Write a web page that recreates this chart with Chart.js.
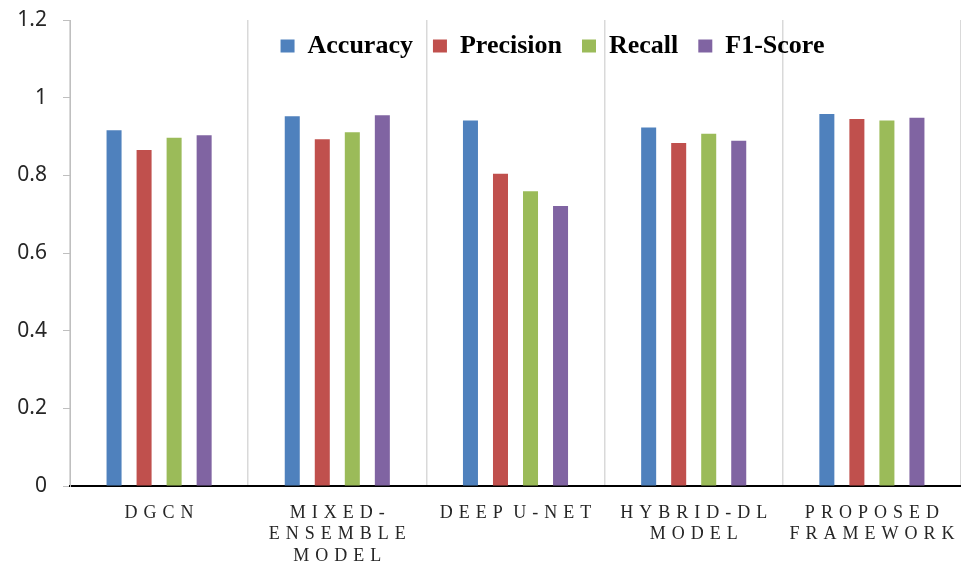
<!DOCTYPE html>
<html>
<head>
<meta charset="utf-8">
<script src="https://cdn.jsdelivr.net/npm/chart.js@4.4.1/dist/chart.umd.min.js"></script>
<style>
  body { margin: 0; background: #fff; }
  #wrap { width: 961px; height: 561px; }
</style>
</head>
<body>
<div id="wrap"><canvas id="myChart"></canvas></div>
<script>
// categorias del eje x (lineas de cada etiqueta)
const categories = [
    ['DGCN'],
    ['MIXED-', 'ENSEMBLE', 'MODEL'],
    ['DEEP U-NET'],
    ['HYBRID-DL', 'MODEL'],
    ['PROPOSED', 'FRAMEWORK']
];

// valores
const accuracy = [0.916, 0.952, 0.941, 0.923, 0.958];
const precision = [0.865, 0.893, 0.804, 0.883, 0.945];
const recall = [0.897, 0.911, 0.759, 0.907, 0.941];
const f1Score = [0.903, 0.955, 0.721, 0.889, 0.948];

const seriesNames = ['Accuracy', 'Precision', 'Recall', 'F1-Score'];
const yMin = 0;
const yMax = 1.2;
const yStep = 0.2;

const colors = ['#4F81BD', '#C0504D', '#9BBB59', '#8064A2'];

// espaciado entre letras como en el original
const spaced = (txt) => txt.split(' ').map(w => w.split('').join('\u2004')).join(' \u2004');
const xLabels = categories.map(lines => lines.map(spaced));

// la leyenda va encima del area del grafico (estilo Excel)
const legendOverlay = {
    id: 'legendOverlay',
    beforeLayout(chart) {
        const lg = chart.legend;
        if (lg && !lg._patched) {
            const fit = lg.fit.bind(lg);
            lg.fit = function () {
                fit();
                this.height = 0;
            };
            lg._patched = true;
        }
    },
    afterLayout(chart) {
        const lg = chart.legend;
        if (lg) {
            lg.top = 13;
            lg.bottom = 90;
            lg.height = 77;
            lg.left += 72;
            lg.right += 72;
        }
    }
};

const ctx = document.querySelector('#myChart');
const values = [accuracy, precision, recall, f1Score];

new Chart(ctx, {
    type: 'bar',
    data: {
        labels: xLabels,
        datasets: seriesNames.map((name, i) => ({
            label: name,
            data: values[i],
            backgroundColor: colors[i],
            borderWidth: 0,
            barPercentage: 0.5,
            categoryPercentage: 0.674
        }))
    },
    options: {
        responsive: true,
        maintainAspectRatio: false,
        animation: false,
        layout: { padding: { top: 20, right: 0, left: 0, bottom: 0 } },
        scales: {
            x: {
                grid: {
                    color: '#d9d9d9',
                    lineWidth: 1.5,
                    drawTicks: false
                },
                border: { color: '#000', width: 2 },
                ticks: {
                    color: '#262626',
                    padding: 16,
                    maxRotation: 0,
                    autoSkip: false,
                    font: { family: '"Liberation Serif", "Times New Roman", serif', size: 18, lineHeight: 1.2 }
                },
                afterFit: (scale) => {
                    scale.height = 75;
                    scale.paddingLeft = 0;
                    scale.paddingRight = 0;
                }
            },
            y: {
                min: yMin,
                max: yMax,
                ticks: {
                    stepSize: yStep,
                    color: '#262626',
                    padding: 16,
                    font: { family: '"Noto Sans", sans-serif', size: 21 },
                    callback: (v) => String(Math.round(v * 10) / 10)
                },
                grid: {
                    drawOnChartArea: false,
                    drawTicks: true,
                    tickLength: 7,
                    color: '#bfbfbf'
                },
                border: { color: '#bfbfbf', width: 1 },
                afterFit: (scale) => {
                    scale.width = 70;
                    scale.paddingTop = 0;
                    scale.paddingBottom = 0;
                }
            }
        },
        plugins: {
            legend: {
                position: 'top',
                align: 'center',
                labels: {
                    boxWidth: 14,
                    boxHeight: 13,
                    padding: 20,
                    color: '#000',
                    font: { family: '"Liberation Serif", "Times New Roman", serif', size: 26, weight: 'bold', lineHeight: 1 }
                }
            },
            tooltip: { enabled: false }
        }
    },
    plugins: [legendOverlay]
});
</script>
</body>
</html>
